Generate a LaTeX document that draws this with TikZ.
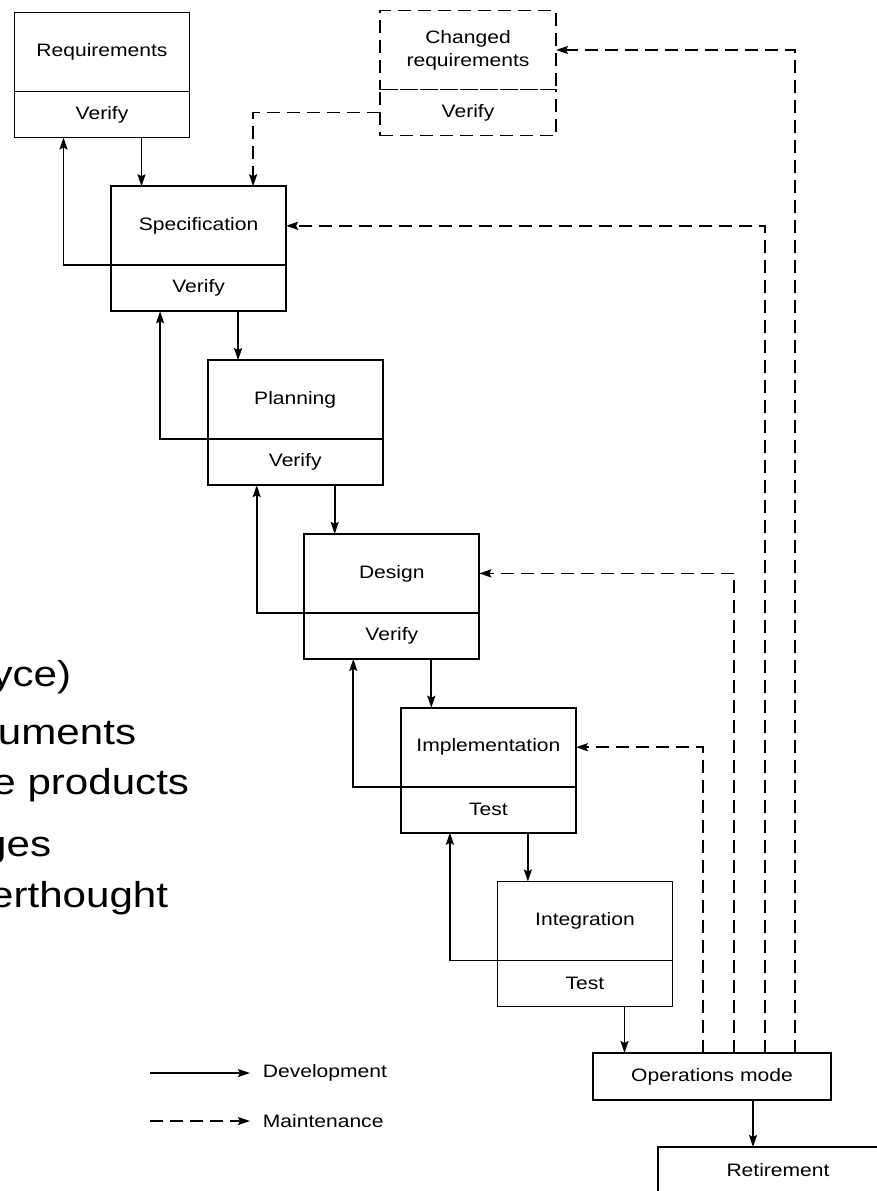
\documentclass[tikz,border=0pt]{standalone}
\usepackage{fontspec}
\setmainfont{Liberation Sans}[FakeStretch=1.17]
\usetikzlibrary{arrows.meta,positioning}

\begin{document}
\begin{tikzpicture}[x=1pt,y=-1pt,line width=1.8pt,
  phase/.style={draw, minimum width=175pt, minimum height=79pt, inner sep=0pt,
    outer sep=0pt, align=center, font=\fontsize{18}{23}\selectfont},
  check/.style={phase, minimum height=46pt},
  dev/.style={-{Stealth[length=12pt,width=8pt,inset=2pt]}},
  mnt/.style={dev, dash pattern=on 13pt off 7pt},
  bullet/.style={anchor=base east, inner sep=0pt, font=\fontsize{36}{40}\selectfont},
  legend/.style={anchor=west, inner sep=0pt, font=\fontsize{18}{22}\selectfont}]
  \path[use as bounding box] (0,0) rectangle (877,1191);
  \clip (0,0) rectangle (877,1191);

  \foreach \name/\txt/\chk [count=\i from 0] in {req/Requirements/Verify,
      spec/Specification/Verify, plan/Planning/Verify, des/Design/Verify,
      impl/Implementation/Test, integ/Integration/Test}{
    \node[phase] (\name) at (102+96.6*\i, 52+173.8*\i) {\txt};
    \node[check, below=0pt of \name] (\name-v) {\chk};
  }
  \node[phase, minimum width=176pt, dash pattern=on 13pt off 7pt] (chg) at (468,50) {Changed\\requirements};
  \node[check, minimum width=176pt, dash pattern=on 13pt off 7pt, below=0pt of chg] (chg-v) {Verify};
  \node[phase, minimum width=238pt, minimum height=47pt] (ops) at (712,1076.5) {Operations mode};
  \node[phase, minimum width=240pt, minimum height=47pt, anchor=north west] (ret) at (658,1147) {Retirement};

  % development
  \foreach \a/\b in {req/spec, spec/plan, plan/des, des/impl, impl/integ}{
    \draw[dev] ([xshift=127pt]\a-v.south west) coordinate (t) -- (t |- \b.north);
    \draw[dev] (\b-v.north west) -| ([xshift=49pt]\a-v.south west);
  }
  \draw[dev] ([xshift=127pt]integ-v.south west) coordinate (t) -- (t |- ops.north);
  \draw[dev] ([xshift=41pt]ops.south) coordinate (t) -- (t |- ret.north);

  % maintenance
  \draw[mnt] ([xshift=110pt]ops.north west) |- (impl.east);
  \draw[mnt] ([xshift=141pt]ops.north west) |- (des.east);
  \draw[mnt] ([xshift=172pt]ops.north west) |- (spec.east);
  \draw[mnt] ([xshift=202pt]ops.north west) |- (chg.east);
  \draw[mnt] (chg-v.west) -| ([xshift=142pt]spec.north west);

  % legend
  \node[legend] (devl) at (262,1073) {Development};
  \node[legend] (mntl) at (262,1121) {Maintenance};
  \coordinate (devs) at (150,1073);
  \coordinate (mnts) at (150,1121);
  \draw[dev] (devs) -- ([xshift=-12pt]devl.west);
  \draw[mnt] (mnts) -- ([xshift=-12pt]mntl.west);

  \node[bullet] (b1) at (72,686) {yce)};
  \node[bullet] (b2) at (137,744) {uments};
  \node[bullet] (b3) at (190,794) {e products};
  \node[bullet] (b4) at (52,856) {ges};
  \node[bullet] (b5) at (169,907) {erthought};
\end{tikzpicture}
\end{document}
